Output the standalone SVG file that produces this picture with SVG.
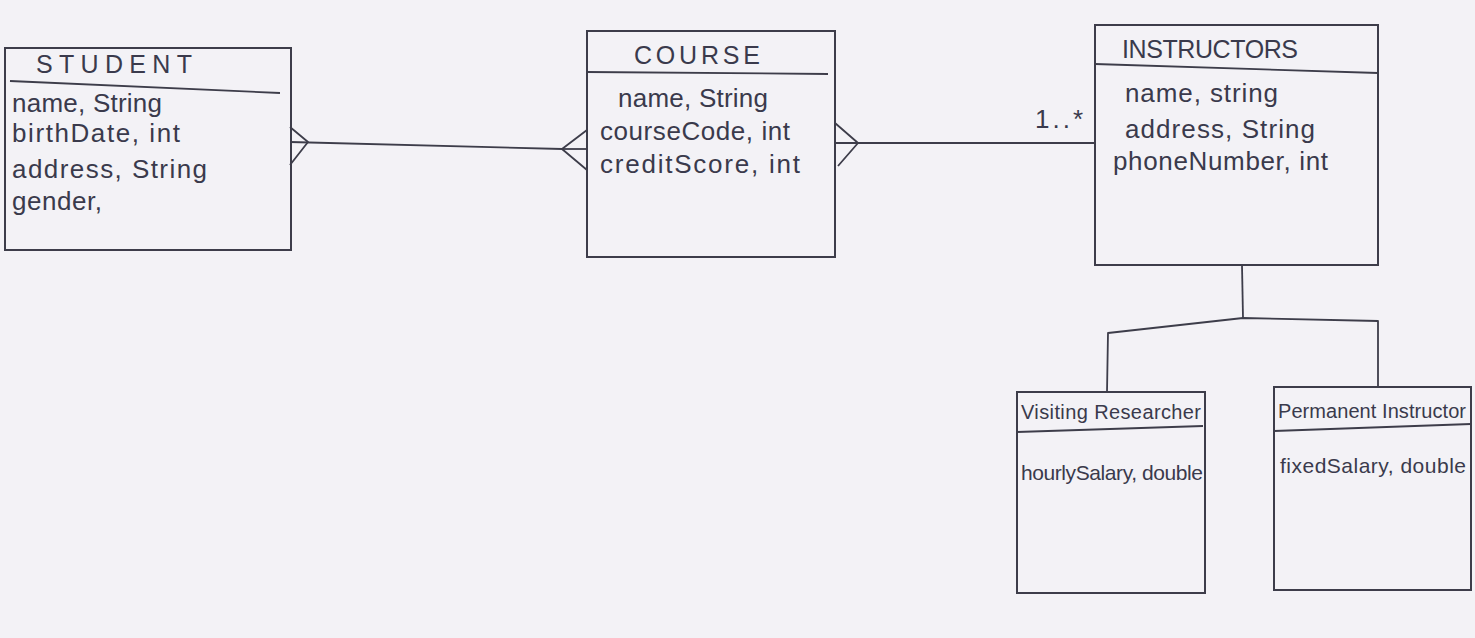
<svg xmlns="http://www.w3.org/2000/svg" width="1475" height="638" viewBox="0 0 1475 638">
<style>
.box{fill:none;stroke:#3d3d4a;stroke-width:2}
.ln{fill:none;stroke:#3d3d4a;stroke-width:1.8;stroke-linejoin:round}
.t{font-family:"Liberation Sans",Arial,sans-serif;fill:#3a3a4c}
.title{font-size:25px;letter-spacing:2px}
.attr{font-size:26px}
.sub{font-size:20px}
.subattr{font-size:21px}
</style>
<rect x="0" y="0" width="1475" height="638" fill="#f3f2f6"/>
<g id="connectors">
  <polyline class="ln" points="290,127 308,142 290,165"/>
  <line class="ln" x1="290" y1="142" x2="562" y2="149"/>
  <polyline class="ln" points="587,130 562,149 587,170"/>
  <line class="ln" x1="562" y1="149" x2="587" y2="149"/>
  <polyline class="ln" points="835,123 858,143 838,166"/>
  <line class="ln" x1="835" y1="143" x2="1095" y2="143"/>
  <text class="t attr" x="1035" y="128" textLength="48">1..*</text>
  <polyline class="ln" points="1242,265 1243,318"/>
  <polyline class="ln" points="1107,392 1108,333 1243,318 1378,321 1378,387"/>
</g>
<g id="student">
  <rect class="box" x="5" y="48" width="286" height="202"/>
  <line class="ln" x1="10" y1="81" x2="280" y2="93"/>
  <text class="t title" x="115" y="73" text-anchor="middle" textLength="158">STUDENT</text>
  <text class="t attr" x="12" y="112" textLength="150">name, String</text>
  <text class="t attr" x="12" y="142" textLength="168">birthDate, int</text>
  <text class="t attr" x="12" y="178" textLength="195">address, String</text>
  <text class="t attr" x="12" y="210" textLength="90">gender,</text>
</g>
<g id="course">
  <rect class="box" x="587" y="31" width="248" height="226"/>
  <line class="ln" x1="587" y1="72" x2="828" y2="74"/>
  <text class="t title" x="698" y="64" text-anchor="middle" textLength="128">COURSE</text>
  <text class="t attr" x="618" y="107" textLength="150">name, String</text>
  <text class="t attr" x="600" y="140" textLength="190">courseCode, int</text>
  <text class="t attr" x="600" y="173" textLength="200">creditScore, int</text>
</g>
<g id="instructors">
  <rect class="box" x="1095" y="25" width="283" height="240"/>
  <line class="ln" x1="1095" y1="64" x2="1378" y2="73"/>
  <text class="t title" x="1211" y="58" text-anchor="middle" textLength="178">INSTRUCTORS</text>
  <text class="t attr" x="1125" y="102" textLength="153">name, string</text>
  <text class="t attr" x="1125" y="138" textLength="190">address, String</text>
  <text class="t attr" x="1113" y="170" textLength="215">phoneNumber, int</text>
</g>
<g id="visiting-researcher">
  <rect class="box" x="1017" y="392" width="188" height="201"/>
  <line class="ln" x1="1017" y1="432" x2="1203" y2="426"/>
  <text class="t sub" x="1021" y="419" textLength="180">Visiting Researcher</text>
  <text class="t subattr" x="1021" y="480" textLength="182">hourlySalary, double</text>
</g>
<g id="permanent-instructor">
  <rect class="box" x="1274" y="387" width="197" height="203"/>
  <line class="ln" x1="1274" y1="431" x2="1471" y2="424"/>
  <text class="t sub" x="1278" y="418" textLength="188">Permanent Instructor</text>
  <text class="t subattr" x="1280" y="473" textLength="186">fixedSalary, double</text>
</g>
</svg>
